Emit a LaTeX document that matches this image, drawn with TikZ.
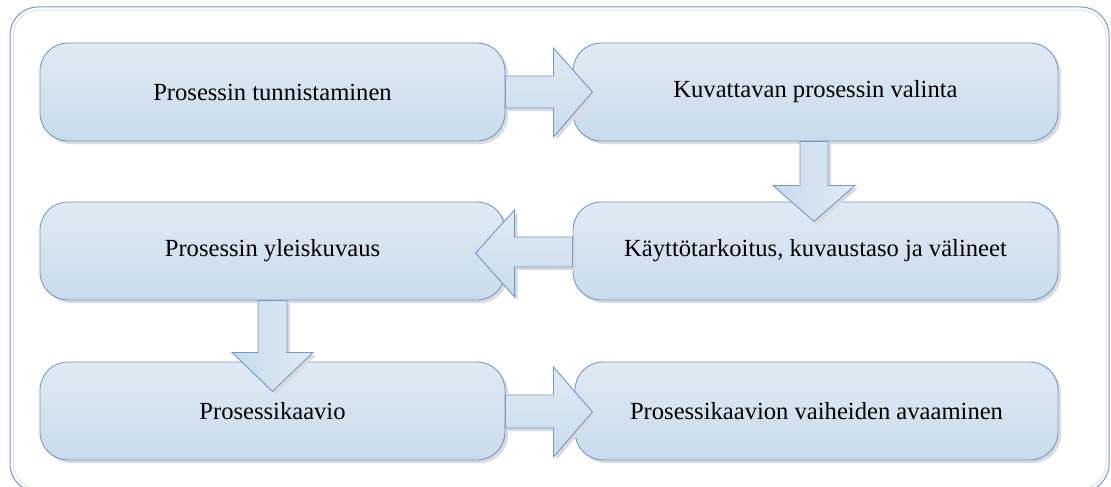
\documentclass[tikz,border=0pt]{standalone}
\usepackage{fontspec}
\setmainfont{Liberation Serif}
\usetikzlibrary{calc,shadows}
\definecolor{edgeblue}{HTML}{6F9ACB}
\definecolor{filltop}{HTML}{E0EAF4}
\definecolor{fillbot}{HTML}{C9DBEB}
\definecolor{framegray}{HTML}{E2E2E2}
\tikzset{
  stepbox/.style={draw=edgeblue, line width=0.9pt, rounded corners=28pt,
    top color=filltop, bottom color=fillbot, minimum height=98pt,
    font=\fontsize{24.6}{29}\selectfont, text=black, inner sep=0pt,
    drop shadow={shadow xshift=3pt, shadow yshift=-3pt, fill=black!14, opacity=1}},
  flowarrow/.style={draw=edgeblue, line width=0.9pt, line join=miter,
    top color=filltop, bottom color=fillbot,
    drop shadow={shadow xshift=3pt, shadow yshift=-3pt, fill=black!14, opacity=1}},
  downarrow/.style={draw=edgeblue, line width=0.9pt, line join=miter,
    left color=fillbot, right color=filltop,
    drop shadow={shadow xshift=3pt, shadow yshift=-3pt, fill=black!14, opacity=1}},
}
\begin{document}
\begin{tikzpicture}[x=1pt,y=-1pt]
  \useasboundingbox (0,0) rectangle (1111,487);
  \clip (0,0) rectangle (1111,487);

  % outer frame with a faint inner line
  \draw[framegray, line width=1pt, rounded corners=26pt] (13,10) rectangle (1106,489);
  \draw[edgeblue, line width=1pt, rounded corners=28pt] (10,7) rectangle (1109,492);

  % process steps
  \node[stepbox, minimum width=465pt] (b1) at (272.5,92) {Prosessin tunnistaminen};
  \node[stepbox, minimum width=485pt] (b2) at (815.5,92) {Kuvattavan prosessin valinta};
  \node[stepbox, minimum width=485pt] (b3) at (815.5,251) {Käyttötarkoitus, kuvaustaso ja välineet};
  \node[stepbox, minimum width=465pt] (b4) at (272.5,251) {Prosessin yleiskuvaus};
  \node[stepbox, minimum width=465pt] (b5) at (272.5,411) {Prosessikaavio};
  \node[stepbox, minimum width=483pt] (b6) at (816.5,411) {Prosessikaavion vaiheiden avaaminen};

  % block arrows between the steps
  \path[flowarrow] ($(b1.east)+(0,-16)$) -- ++(48,0) -- ++(0,-28) -- ($(b1.east)+(87,0)$)
    -- ($(b1.east)+(48,45)$) -- ++(0,-29) -- ($(b1.east)+(0,16)$) -- cycle;

  \path[downarrow] ($(b2.south)+(-15.5,0)$) -- ++(0,44) -- ++(-27,0) -- ($(b2.south)+(-1.5,80)$)
    -- ($(b2.south)+(39.5,44)$) -- ++(-27,0) -- ($(b2.south)+(12.5,0)$) -- cycle;

  \path[flowarrow] ($(b3.west)+(0,-14)$) -- ++(-58,0) -- ++(0,-27) -- ($(b3.west)+(-97,2)$)
    -- ($(b3.west)+(-58,46)$) -- ++(0,-30) -- ($(b3.west)+(0,16)$) -- cycle;

  \path[downarrow] ($(b4.south)+(-14.5,0)$) -- ++(0,52) -- ++(-26,0) -- ($(b4.south)+(0,91)$)
    -- ($(b4.south)+(40.5,52)$) -- ++(-26,0) -- ($(b4.south)+(14.5,0)$) -- cycle;

  \path[flowarrow] ($(b5.east)+(0,-16)$) -- ++(48,0) -- ++(0,-28) -- ($(b5.east)+(87,1)$)
    -- ($(b5.east)+(48,46)$) -- ++(0,-29) -- ($(b5.east)+(0,17)$) -- cycle;
\end{tikzpicture}
\end{document}
